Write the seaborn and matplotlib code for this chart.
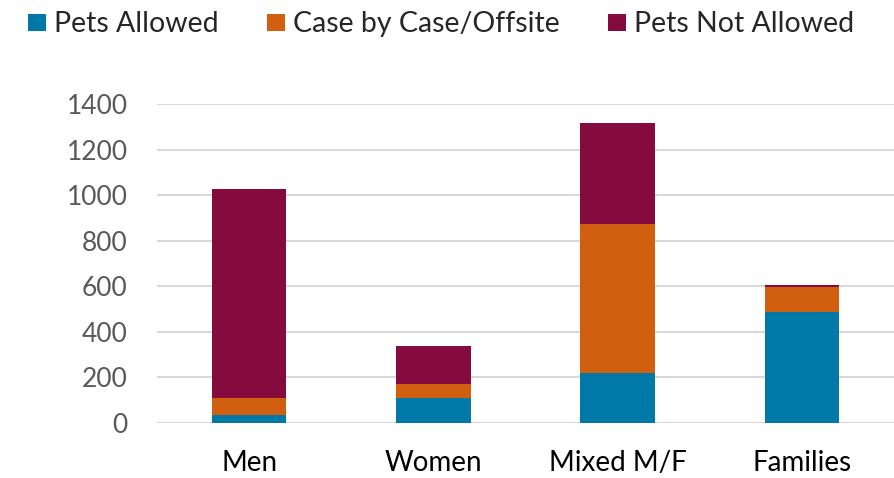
import matplotlib
matplotlib.use("Agg")
import matplotlib.pyplot as plt
from matplotlib.patches import Patch
import numpy as np
import pandas as pd
import seaborn as sns

categories = ["Men", "Women", "Mixed M/F", "Families"]
pets_allowed = [33, 108, 219, 485]
case_by_case = [74, 62, 655, 113]
pets_not_allowed = [921, 168, 442, 6]
series_names = ["Pets Allowed", "Case by Case/Offsite", "Pets Not Allowed"]
colors = ["#0078A8", "#D0600F", "#850A3E"]

sns.set_theme(style="white")
plt.rcParams["font.family"] = ["Lato", "DejaVu Sans"]

df = pd.DataFrame({
    "category": categories,
    "allowed": pets_allowed,
    "case": case_by_case,
    "not_allowed": pets_not_allowed,
})
# cumulative tops for stacking (drawn back to front)
df["top_allowed"] = df["allowed"]
df["top_case"] = df["allowed"] + df["case"]
df["top_total"] = df["top_case"] + df["not_allowed"]

fig = plt.figure(figsize=(8.94, 4.78), dpi=100)
ax = fig.add_axes([0.1756, 0.116, 0.8244, 0.666])

for col, color in zip(["top_total", "top_case", "top_allowed"], colors[::-1]):
    sns.barplot(data=df, x="category", y=col, color=color, width=0.405,
                saturation=1, linewidth=0, ax=ax, zorder=3)

ax.set_ylim(0, 1400)
ax.set_yticks(np.arange(0, 1401, 200))
ax.yaxis.grid(True, color="#D9D9D9", linewidth=1.5, zorder=0)
ax.set_axisbelow(True)
for s in ax.spines.values():
    s.set_visible(False)
ax.set_xlabel("")
ax.set_ylabel("")
ax.tick_params(axis="y", length=0, pad=21, labelsize=19, labelcolor="#595959")
ax.tick_params(axis="x", length=0, pad=20, labelsize=20, labelcolor="#000000")

handles = [Patch(facecolor=c, edgecolor="none") for c in colors]
fig.legend(handles, series_names, loc="upper left", bbox_to_anchor=(0.031, 0.976),
           ncol=3, frameon=False, fontsize=20.5, handlelength=0.63, handleheight=0.56,
           handletextpad=0.28, columnspacing=1.7, borderpad=0, borderaxespad=0)

fig.savefig("out.png", dpi=100)
